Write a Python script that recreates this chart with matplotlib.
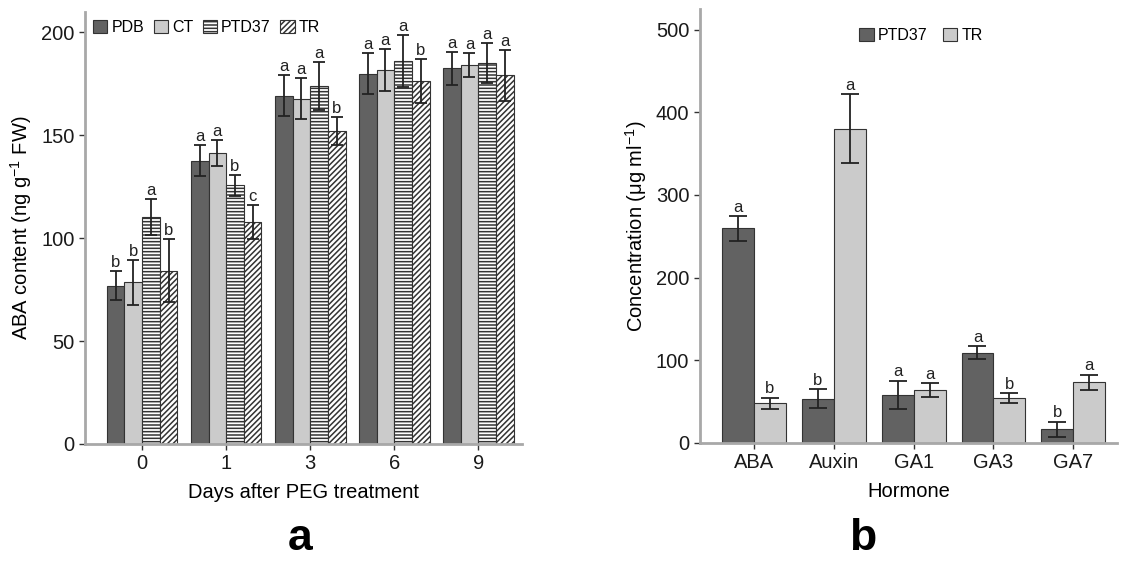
import matplotlib
matplotlib.use("Agg")
import matplotlib.pyplot as plt
from matplotlib.patches import Patch
import numpy as np

plt.rcParams["font.family"] = ["Liberation Sans", "DejaVu Sans"]
plt.rcParams["hatch.linewidth"] = 1.1

# ---- panel a: ABA content over days
days = ["0", "1", "3", "6", "9"]
a_series = ["PDB", "CT", "PTD37", "TR"]
pdb = [76.9, 137.7, 169.3, 180.0, 182.5]
ct = [78.5, 141.5, 167.9, 181.8, 184.1]
ptd = [110.3, 125.7, 174.1, 186.2, 185.2]
tr = [84.2, 107.9, 152.2, 176.3, 179.1]
pdb_err = [7.0, 7.5, 9.8, 9.8, 7.8]
ct_err = [11.0, 6.3, 9.9, 10.4, 5.8]
ptd_err = [8.8, 5.0, 11.6, 12.7, 9.7]
tr_err = [15.4, 8.4, 6.9, 10.6, 12.3]
pdb_let = ["b", "a", "a", "a", "a"]
ct_let = ["b", "a", "a", "a", "a"]
ptd_let = ["a", "b", "a", "a", "a"]
tr_let = ["b", "c", "b", "b", "a"]

# ---- panel b: hormone concentration
hormones = ["ABA", "Auxin", "GA1", "GA3", "GA7"]
b_series = ["PTD37", "TR"]
b_ptd = [259.7, 53.4, 58.3, 108.9, 16.6]
b_tr = [47.8, 380.3, 64.0, 53.9, 73.3]
b_ptd_err = [15.0, 11.4, 17.0, 8.0, 9.0]
b_tr_err = [7.0, 41.7, 8.5, 6.0, 9.3]
b_ptd_let = ["a", "b", "a", "a", "b"]
b_tr_let = ["b", "a", "a", "b", "a"]

DARK = "#626262"
LIGHT = "#cbcbcb"
EDGE = "#333333"
SPINE = "#a8a8a8"

fig = plt.figure(figsize=(11.47, 5.67), dpi=100)
ax1 = fig.add_axes([0.0741, 0.217, 0.381, 0.762])
ax2 = fig.add_axes([0.610, 0.219, 0.364, 0.765])


def style_axes(ax):
    for s in ("top", "right"):
        ax.spines[s].set_visible(False)
    for s in ("left", "bottom"):
        ax.spines[s].set_color(SPINE)
        ax.spines[s].set_linewidth(2.0)
    ax.tick_params(axis="both", direction="out", length=4, width=1.0,
                   color="#333333", labelsize=14.5, labelcolor="#1a1a1a")


def draw_bars(ax, x, vals, errs, lets, width, face, hatch, capsize, fs, pad):
    ax.bar(x, vals, width, color=face, edgecolor=EDGE, linewidth=0.8,
           hatch=hatch, zorder=2)
    ax.errorbar(x, vals, yerr=errs, fmt="none", ecolor="#222222",
                elinewidth=1.3, capsize=capsize, capthick=1.3, zorder=3)
    for xi, v, e, l in zip(x, vals, errs, lets):
        ax.text(xi, v + e + pad, l, ha="center", va="bottom",
                fontsize=fs, color="#222222")


# panel a
xa = np.arange(len(days))
w = 0.21
specs = [(pdb, pdb_err, pdb_let, DARK, None),
         (ct, ct_err, ct_let, LIGHT, None),
         (ptd, ptd_err, ptd_let, "white", "-----"),
         (tr, tr_err, tr_let, "white", "//////")]
for k, (v, e, l, fc, h) in enumerate(specs):
    draw_bars(ax1, xa + (k - 1.5) * w, v, e, l, w, fc, h, 4.3, 12, 0.5)
style_axes(ax1)
ax1.set_xlim(-0.68, 4.52)
ax1.set_ylim(0, 210)
ax1.set_yticks([0, 50, 100, 150, 200])
ax1.set_xticks(xa)
ax1.set_xticklabels(days)
ax1.set_xlabel("Days after PEG treatment", fontsize=14.5, labelpad=7)
ax1.set_ylabel("ABA content (ng g$^{\\mathregular{-1}}$ FW)", fontsize=14.5, labelpad=5)
handles = [Patch(facecolor=fc, edgecolor=EDGE, hatch=h, linewidth=0.8, label=n)
           for n, (v, e, l, fc, h) in zip(a_series, specs)]
ax1.legend(handles=handles, loc="upper left", ncol=4, frameon=False,
           fontsize=11.5, handlelength=0.9, handleheight=0.9, handletextpad=0.25,
           columnspacing=0.6, borderaxespad=0.1, bbox_to_anchor=(0.0, 1.0))
fig.text(0.262, 0.03, "a", ha="center", fontsize=32, fontweight="bold")

# panel b
xb = np.arange(len(hormones))
wb = 0.4
draw_bars(ax2, xb - wb / 2, b_ptd, b_ptd_err, b_ptd_let, wb, DARK, None, 6.5, 12, 1.5)
draw_bars(ax2, xb + wb / 2, b_tr, b_tr_err, b_tr_let, wb, LIGHT, None, 6.5, 12, 1.5)
style_axes(ax2)
ax2.set_xlim(-0.68, 4.55)
ax2.set_ylim(0, 525)
ax2.set_yticks([0, 100, 200, 300, 400, 500])
ax2.set_xticks(xb)
ax2.set_xticklabels(hormones)
ax2.set_xlabel("Hormone", fontsize=14.5, labelpad=7)
ax2.set_ylabel("Concentration (\u03bcg ml$^{\\mathregular{-1}}$)", fontsize=14.5, labelpad=5)
handles_b = [Patch(facecolor=DARK, edgecolor=EDGE, linewidth=0.8, label=b_series[0]),
             Patch(facecolor=LIGHT, edgecolor=EDGE, linewidth=0.8, label=b_series[1])]
ax2.legend(handles=handles_b, loc="upper center", ncol=2, frameon=False,
           fontsize=11.5, handlelength=0.9, handleheight=0.9, handletextpad=0.25,
           columnspacing=1.0, bbox_to_anchor=(0.53, 0.99))
fig.text(0.752, 0.03, "b", ha="center", fontsize=32, fontweight="bold")

fig.savefig("out.png", dpi=100)
